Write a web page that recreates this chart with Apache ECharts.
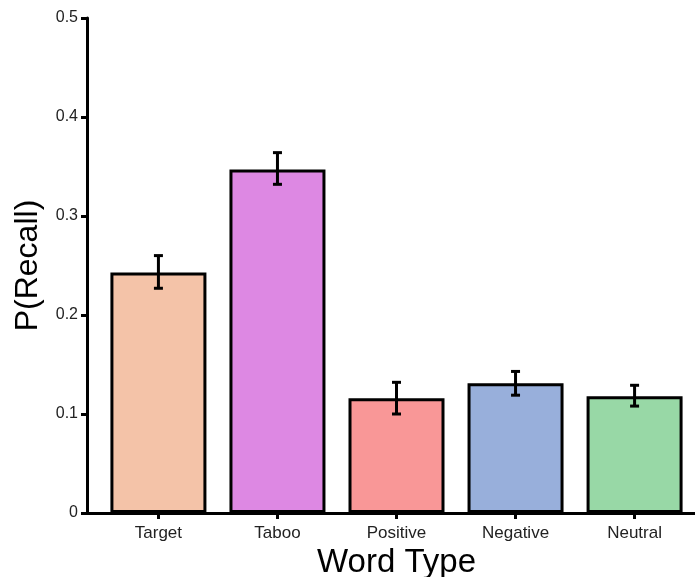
<!DOCTYPE html>
<html>
<head>
<meta charset="utf-8">
<script src="https://cdn.jsdelivr.net/npm/echarts@6/dist/echarts.min.js"></script>
<style>
  html, body { margin: 0; padding: 0; background: #fff; }
  #chart { width: 695px; height: 577px; }
</style>
</head>
<body>
<div id="chart"></div>
<script>
// word types and recall means with error bar ends
const categories = ['Target', 'Taboo', 'Positive', 'Negative', 'Neutral'];
const recall = [0.243, 0.347, 0.116, 0.131, 0.118];
const errLow = [0.227, 0.332, 0.100, 0.119, 0.108];
const errHigh = [0.260, 0.364, 0.132, 0.143, 0.129];
const barColors = ['#F4C3A8', '#DD88E3', '#F99797', '#98AFDB', '#98D8A6'];

const positions = categories.map((c, i) => i + 1);

const chart = echarts.init(document.getElementById('chart'));

const option = {
  animation: false,
  grid: {
    left: 87, right: -11, top: 18, bottom: 64,
    containLabel: false,
    outerBoundsMode: 'none'
  },
  xAxis: {
    type: 'value',
    min: 0.4,
    max: 5.6,
    splitLine: { show: false },
    axisLine: { show: true, onZero: false, lineStyle: { color: '#000', width: 3 } },
    axisTick: { show: true, customValues: positions, length: 6, lineStyle: { color: '#000', width: 3 } },
    axisLabel: {
      customValues: positions,
      formatter: v => categories[Math.round(v) - 1] || '',
      color: '#222', fontSize: 17, fontFamily: 'Liberation Sans, Arial', margin: 12
    },
    name: 'Word Type',
    nameLocation: 'middle',
    nameGap: 25,
    nameTextStyle: { fontSize: 33, color: '#000', fontFamily: 'Liberation Sans, Arial' }
  },
  yAxis: {
    type: 'value',
    min: 0,
    max: 0.5,
    interval: 0.1,
    splitLine: { show: false },
    axisLine: { show: true, lineStyle: { color: '#000', width: 3 } },
    axisTick: { show: true, length: 6, lineStyle: { color: '#000', width: 3 } },
    axisLabel: {
      formatter: v => String(+v.toFixed(1)),
      color: '#222', fontSize: 16, fontFamily: 'Liberation Sans, Arial', margin: 9
    },
    name: 'P(Recall)',
    nameLocation: 'middle',
    nameGap: 43,
    nameRotate: 90,
    nameTextStyle: { fontSize: 32, color: '#000', fontFamily: 'Liberation Sans, Arial' }
  },
  series: [
    {
      type: 'bar',
      barWidth: 96,
      data: recall.map((v, i) => ({
        value: [positions[i], v],
        itemStyle: { color: barColors[i], borderColor: '#000', borderWidth: 3 }
      }))
    },
    {
      type: 'custom',
      z: 5,
      data: positions.map((p, i) => [p, errLow[i], errHigh[i]]),
      renderItem: function (params, api) {
        const lo = api.coord([api.value(0), api.value(1)]);
        const hi = api.coord([api.value(0), api.value(2)]);
        const hw = 4.5;
        const style = { stroke: '#000', lineWidth: 3 };
        return {
          type: 'group',
          children: [
            { type: 'line', shape: { x1: lo[0], y1: lo[1], x2: hi[0], y2: hi[1] }, style: style },
            { type: 'line', shape: { x1: lo[0] - hw, y1: lo[1], x2: lo[0] + hw, y2: lo[1] }, style: style },
            { type: 'line', shape: { x1: hi[0] - hw, y1: hi[1], x2: hi[0] + hw, y2: hi[1] }, style: style }
          ]
        };
      }
    }
  ]
};

chart.setOption(option);
</script>
</body>
</html>
